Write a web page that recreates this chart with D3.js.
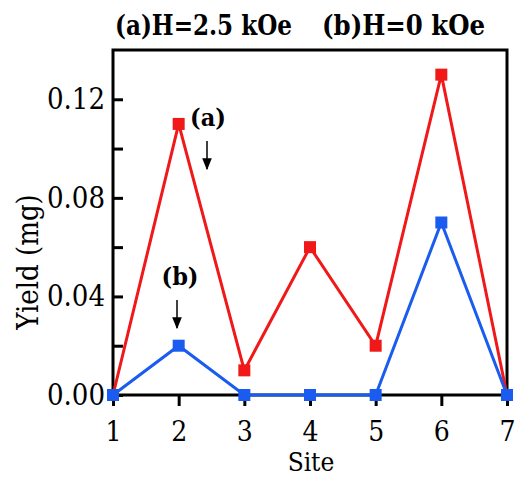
<!DOCTYPE html>
<html>
<head>
<meta charset="utf-8">
<script src="https://cdn.jsdelivr.net/npm/d3@7"></script>
<style>
  body { margin: 0; background: #fff; }
  svg text { font-family: "DejaVu Serif Condensed", "DejaVu Serif", serif; font-stretch: condensed; }
</style>
</head>
<body>
<div id="chart"></div>
<script>
// data
const sites = [1, 2, 3, 4, 5, 6, 7];
const yieldA = [0, 0.11, 0.01, 0.06, 0.02, 0.13, 0]; // H=2.5 kOe
const yieldB = [0, 0.02, 0, 0, 0, 0.07, 0];          // H=0 kOe
const yMajor = [0, 0.04, 0.08, 0.12];
const yMinor = [0.02, 0.06, 0.10];

const width = 515, height = 477;
const margin = { top: 50, right: 8, bottom: 82, left: 113 };

const svg = d3.select("#chart").append("svg")
  .attr("width", width).attr("height", height);

const x = d3.scaleLinear().domain([1, 7]).range([margin.left, width - margin.right]);
const y = d3.scaleLinear().domain([0, 0.14]).range([height - margin.bottom, margin.top]);

const red = "#f01818", blue = "#1a5cf0";

// frame
svg.append("rect")
  .attr("x", x(1)).attr("y", y(0.14))
  .attr("width", x(7) - x(1)).attr("height", y(0) - y(0.14))
  .attr("fill", "none").attr("stroke", "#000").attr("stroke-width", 3);

// y axis, ticks inward
const yAxis = svg.append("g")
  .attr("transform", `translate(${x(1)},0)`)
  .call(d3.axisRight(y).tickValues(yMajor.concat(yMinor)).tickSize(10).tickFormat(""));
yAxis.select(".domain").remove();
yAxis.selectAll("line").attr("stroke-width", 3);

svg.append("g").selectAll("text")
  .data(yMajor)
  .join("text")
  .attr("x", x(1) - 8)
  .attr("y", d => y(d) + 10)
  .attr("text-anchor", "end")
  .attr("font-size", 29)
  .text(d3.format(".2f"));

// x axis, ticks outward
const xAxis = svg.append("g")
  .attr("transform", `translate(0,${y(0)})`)
  .call(d3.axisBottom(x).tickValues(sites).tickSize(11).tickPadding(0).tickFormat(d3.format("d")));
xAxis.select(".domain").remove();
xAxis.selectAll("line").attr("stroke-width", 3);
xAxis.selectAll("text")
  .attr("dy", null)
  .attr("y", 46)
  .attr("font-size", 28)
  .attr("fill", "#000");

// axis titles
svg.append("text")
  .attr("x", 311).attr("y", 471)
  .attr("text-anchor", "middle")
  .attr("font-size", 26)
  .text("Site");

svg.append("text")
  .attr("transform", "translate(38,262) rotate(-90)")
  .attr("text-anchor", "middle")
  .attr("font-size", 29)
  .text("Yield (mg)");

// header labels
svg.append("text")
  .attr("x", 115).attr("y", 35)
  .attr("font-size", 27).attr("font-weight", "bold")
  .attr("textLength", 177).attr("lengthAdjust", "spacingAndGlyphs")
  .text("(a)H=2.5 kOe");
svg.append("text")
  .attr("x", 322).attr("y", 35)
  .attr("font-size", 27).attr("font-weight", "bold")
  .attr("textLength", 163).attr("lengthAdjust", "spacingAndGlyphs")
  .text("(b)H=0 kOe");

// lines + markers
const line = d3.line().x((d, i) => x(sites[i])).y(d => y(d));
const series = [
  { values: yieldA, color: red },
  { values: yieldB, color: blue }
];

series.forEach(s => {
  svg.append("path")
    .datum(s.values)
    .attr("d", line)
    .attr("fill", "none")
    .attr("stroke", s.color)
    .attr("stroke-width", 3);
  svg.append("g").selectAll("rect")
    .data(s.values)
    .join("rect")
    .attr("x", (d, i) => x(sites[i]) - 6)
    .attr("y", d => y(d) - 6)
    .attr("width", 12).attr("height", 12)
    .attr("fill", s.color);
});

// annotations with arrows
svg.append("defs").append("marker")
  .attr("id", "arr").attr("viewBox", "0 0 10 10")
  .attr("refX", 9).attr("refY", 5)
  .attr("markerWidth", 8).attr("markerHeight", 8)
  .attr("orient", "auto")
  .append("path").attr("d", "M0,1 L10,5 L0,9 Z").attr("fill", "#000");

const notes = [
  { label: "(a)", tx: 208, ty: 126, ax: 207, y1: 141, y2: 169 },
  { label: "(b)", tx: 180, ty: 285, ax: 177, y1: 300, y2: 328 }
];
notes.forEach(n => {
  svg.append("text")
    .attr("x", n.tx).attr("y", n.ty)
    .attr("text-anchor", "middle")
    .attr("font-size", 25).attr("font-weight", "bold")
    .text(n.label);
  svg.append("line")
    .attr("x1", n.ax).attr("x2", n.ax)
    .attr("y1", n.y1).attr("y2", n.y2)
    .attr("stroke", "#000").attr("stroke-width", 1.5)
    .attr("marker-end", "url(#arr)");
});
</script>
</body>
</html>
